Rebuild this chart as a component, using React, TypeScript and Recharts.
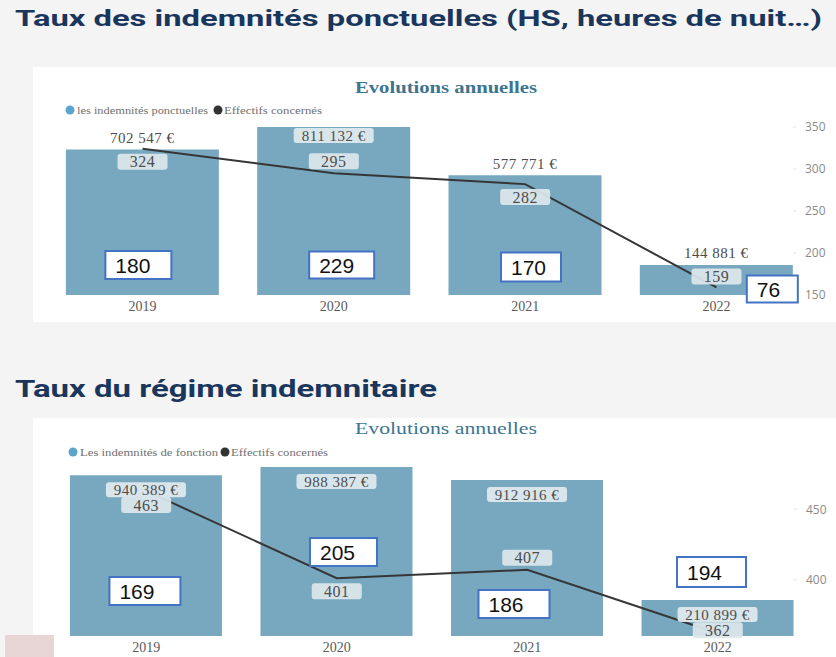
import { ComposedChart, Bar, Line, XAxis, YAxis, LabelList } from 'recharts';

const years = ['2019', '2020', '2021', '2022'];

// Taux des indemnités ponctuelles
const ponctuellesMontants = [702547, 811132, 577771, 144881];
const ponctuellesEffectifs = [324, 295, 282, 159];
const ponctuellesEncadres = [180, 229, 170, 76];
const ponctuellesTicks = [150, 200, 250, 300, 350];

// Taux du régime indemnitaire
const regimeMontants = [940389, 988387, 912916, 210899];
const regimeEffectifs = [463, 401, 407, 362];
const regimeEncadres = [169, 205, 186, 194];
const regimeTicks = [400, 450];

const BAR = '#77a8bf';
const LINE = '#363636';
const SERIF = '"Liberation Serif", "DejaVu Serif", serif';

const fmtEuro = (v: number) => String(v).replace(/\B(?=(\d{3})+(?!\d))/g, ' ') + ' €';

const buildRows = (montants: number[], effectifs: number[], encadres: number[]) =>
  years.map((year, i) => ({ idx: i, year, montant: montants[i], effectif: effectifs[i], encadre: encadres[i] }));

type Enc = { dx: number; dy: number; w: number; h: number };

type Cfg = {
  rows: ReturnType<typeof buildRows>;
  ticks: number[];
  domain: [number, number];
  width: number;
  height: number;
  margin: { top: number; right: number; bottom: number; left: number };
  xHeight: number;
  yWidth: number;
  barSize: number;
  euroInside: boolean;
  insideDy: number;
  lineDy: number[];
  enc: Enc[];
};

const vbOf = (p: any) => {
  const vb = p.viewBox ?? {};
  return {
    x: vb.x ?? p.x ?? 0,
    y: vb.y ?? p.y ?? 0,
    width: vb.width ?? p.width ?? 0,
    height: vb.height ?? p.height ?? 0,
  };
};

const labelText = {
  fontFamily: SERIF,
  fontSize: 15,
  fill: '#4d4d4d',
  letterSpacing: 0.5,
};

function ComboChart({ cfg }: { cfg: Cfg }) {
  const renderEuro = (p: any) => {
    const { x, y, width } = vbOf(p);
    const cx = x + width / 2;
    const inside = cfg.euroInside || y - cfg.margin.top < 15;
    const text = fmtEuro(Number(p.value));
    if (inside) {
      const top = y + cfg.insideDy;
      return (
        <g>
          <rect x={cx - 40} y={top} width={80} height={15} rx={3} fill="#dde8ed" fillOpacity={0.95} />
          <text x={cx} y={top + 7.5} dy="0.35em" textAnchor="middle" {...labelText}>
            {text}
          </text>
        </g>
      );
    }
    return (
      <text x={cx} y={y - 12} dy="0.35em" textAnchor="middle" {...labelText}>
        {text}
      </text>
    );
  };

  const renderEffectif = (p: any) => {
    const { x, y } = vbOf(p);
    const cy = y + cfg.lineDy[p.index];
    return (
      <g>
        <rect x={x - 25} y={cy - 8} width={50} height={16} rx={3} fill="#dde8ed" fillOpacity={0.92} />
        <text x={x} y={cy} dy="0.35em" textAnchor="middle" {...labelText} fontSize={16}>
          {p.value}
        </text>
      </g>
    );
  };

  const renderEncadre = (p: any) => {
    const { x, y, width, height } = vbOf(p);
    const e = cfg.enc[p.index];
    const cx = x + width / 2 + e.dx;
    const cy = y + height + e.dy;
    return (
      <g>
        <rect
          x={cx - e.w / 2}
          y={cy - e.h / 2}
          width={e.w}
          height={e.h}
          fill="#ffffff"
          stroke="#4472c4"
          strokeWidth={2}
        />
        <text
          x={cx - e.w / 2 + 10}
          y={cy}
          dy="0.36em"
          fontFamily='"Liberation Sans", Arial, sans-serif'
          fontSize={21}
          fill="#111"
        >
          {p.value}
        </text>
      </g>
    );
  };

  return (
    <ComposedChart width={cfg.width} height={cfg.height} data={cfg.rows} margin={cfg.margin}>
      <XAxis
        dataKey="idx"
        type="number"
        domain={[-0.4, 3.4]}
        ticks={[0, 1, 2, 3]}
        tickFormatter={(v: number) => years[v]}
        height={cfg.xHeight}
        axisLine={false}
        tickLine={false}
        tickSize={0}
        tickMargin={6}
        tick={{ fill: '#5a5a5a', fontSize: 14, fontFamily: SERIF }}
      />
      <YAxis yAxisId="m" hide domain={[0, 'dataMax']} />
      <YAxis
        yAxisId="e"
        orientation="right"
        domain={cfg.domain}
        ticks={cfg.ticks}
        width={cfg.yWidth}
        axisLine={false}
        tickLine={{ stroke: '#e2e2e2' }}
        tickSize={3}
        tickMargin={9}
        tick={{ fill: '#8a8a8a', fontSize: 12, fontFamily: '"Open Sans", sans-serif' }}
      />
      <Bar yAxisId="m" dataKey="montant" fill={BAR} barSize={cfg.barSize} isAnimationActive={false}>
        <LabelList dataKey="montant" content={renderEuro} />
        <LabelList dataKey="encadre" content={renderEncadre} />
      </Bar>
      <Line
        yAxisId="e"
        dataKey="effectif"
        type="linear"
        stroke={LINE}
        strokeWidth={2}
        dot={false}
        isAnimationActive={false}
      >
        <LabelList dataKey="effectif" content={renderEffectif} />
      </Line>
    </ComposedChart>
  );
}

const cfg1: Cfg = {
  rows: buildRows(ponctuellesMontants, ponctuellesEffectifs, ponctuellesEncadres),
  ticks: ponctuellesTicks,
  domain: [150, 350],
  width: 803,
  height: 255,
  margin: { top: 60, right: 0, bottom: 0, left: 33 },
  xHeight: 27,
  yWidth: 43,
  barSize: 153,
  euroInside: false,
  insideDy: 1,
  lineDy: [13, -12, 13, -11],
  enc: [
    { dx: -4, dy: -30, w: 66, h: 28 },
    { dx: 8, dy: -30, w: 65, h: 27 },
    { dx: 6, dy: -28, w: 60, h: 29 },
    { dx: 56, dy: -6, w: 51, h: 27 },
  ],
};

const cfg2: Cfg = {
  rows: buildRows(regimeMontants, regimeEffectifs, regimeEncadres),
  ticks: regimeTicks,
  domain: [360, 480],
  width: 803,
  height: 239,
  margin: { top: 49, right: 0, bottom: 0, left: 37 },
  xHeight: 21,
  yWidth: 42,
  barSize: 152,
  euroInside: true,
  insideDy: 7,
  lineDy: [14, 13, -12, -3],
  enc: [
    { dx: -1, dy: -45, w: 71, h: 28 },
    { dx: 7, dy: -84, w: 67, h: 28 },
    { dx: -13, dy: -32, w: 71, h: 28 },
    { dx: -6, dy: -64, w: 69, h: 30 },
  ],
};

function PanelHeader({
  titleY,
  titleBold,
  legendY,
  items,
}: {
  titleY: number;
  titleBold: boolean;
  legendY: number;
  items: { cx: number; x: number; len: number; label: string; color: string }[];
}) {
  return (
    <svg width={803} height={60} style={{ position: 'absolute', left: 0, top: 0, pointerEvents: 'none' }}>
      <text
        x={322}
        y={titleY}
        textLength={182}
        lengthAdjust="spacingAndGlyphs"
        fontFamily={SERIF}
        fontSize={17}
        fontWeight={titleBold ? 700 : 400}
        fill="#3c7590"
      >
        Evolutions annuelles
      </text>
      {items.map((it) => (
        <g key={it.label}>
          <circle cx={it.cx} cy={legendY - 4} r={4.5} fill={it.color} />
          <text
            x={it.x}
            y={legendY}
            textLength={it.len}
            lengthAdjust="spacingAndGlyphs"
            fontFamily={SERIF}
            fontSize={11}
            fill="#707070"
          >
            {it.label}
          </text>
        </g>
      ))}
    </svg>
  );
}

export default function App() {
  return (
    <div
      style={{
        position: 'absolute',
        left: 0,
        top: 0,
        width: 836,
        height: 657,
        background: '#f4f4f4',
        overflow: 'hidden',
        fontFamily: 'Roboto, sans-serif',
      }}
    >
      <svg width={836} height={657} style={{ position: 'absolute', left: 0, top: 0 }}>
        <text
          x={15}
          y={26}
          textLength={807}
          lengthAdjust="spacingAndGlyphs"
          fontFamily="Roboto, sans-serif"
          fontWeight={700}
          fontSize={22}
          fill="#1a365c"
        >
          Taux des indemnités ponctuelles (HS, heures de nuit…)
        </text>
        <text
          x={15}
          y={397}
          textLength={422}
          lengthAdjust="spacingAndGlyphs"
          fontFamily="Roboto, sans-serif"
          fontWeight={700}
          fontSize={23}
          fill="#1a365c"
        >
          Taux du régime indemnitaire
        </text>
      </svg>

      <div style={{ position: 'absolute', left: 33, top: 67, width: 803, height: 255, background: '#fff' }}>
        <ComboChart cfg={cfg1} />
        <PanelHeader
          titleY={26}
          titleBold
          legendY={47}
          items={[
            { cx: 37, x: 44, len: 131, label: 'les indemnités ponctuelles', color: '#5ba5cc' },
            { cx: 185, x: 191, len: 98, label: 'Effectifs concernés', color: '#333' },
          ]}
        />
      </div>

      <div style={{ position: 'absolute', left: 33, top: 418, width: 803, height: 239, background: '#fff' }}>
        <ComboChart cfg={cfg2} />
        <PanelHeader
          titleY={16}
          titleBold={false}
          legendY={38}
          items={[
            { cx: 40, x: 47, len: 138, label: 'Les indemnités de fonction', color: '#5ba5cc' },
            { cx: 192, x: 198, len: 97, label: 'Effectifs concernés', color: '#333' },
          ]}
        />
      </div>

      <div style={{ position: 'absolute', left: 5, top: 635, width: 49, height: 22, background: '#e8d6d6' }} />
    </div>
  );
}
